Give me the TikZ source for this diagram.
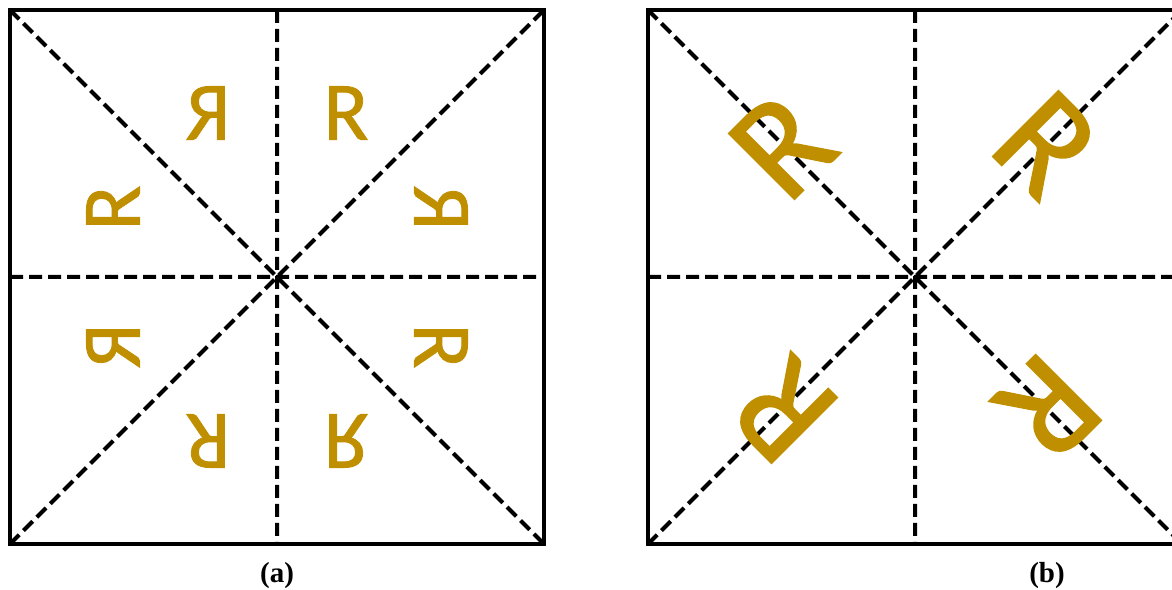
\documentclass[tikz,border=0pt]{standalone}
\usepackage{fontspec}
\setmainfont{Liberation Serif}
\newfontfamily\letterfont[FakeBold=1]{Carlito}
\definecolor{gold}{HTML}{BF8F00}

\begin{document}
\begin{tikzpicture}[x=1pt, y=1pt,
	frame/.style={line width=4pt},
	guide/.style={line width=4pt, dash pattern=on 13pt off 6pt},
	smallR/.style={text=gold, font=\letterfont\fontsize{83}{83}\selectfont, inner sep=0pt, transform shape},
	bigR/.style={text=gold, font=\letterfont\fontsize{145}{145}\selectfont, inner sep=0pt, transform shape},
	caption/.style={font=\bfseries\fontsize{29}{29}\selectfont, anchor=base}]
	\useasboundingbox (0,0) rectangle (1172,589);
	\clip (0,0) rectangle (1172,589);
	
	% Centres of the squares
	\coordinate (ca) at (277,312);
	\coordinate (cb) at (915,312);
	
	% Squares with dashed symmetry lines
	\foreach \p in {a,b} {
		\path (c\p) ++(-267,267) coordinate (\p-nw) ++(534,0) coordinate (\p-ne)
			++(0,-534) coordinate (\p-se) ++(-534,0) coordinate (\p-sw);
		\path (c\p) ++(0,267) coordinate (\p-n) ++(0,-534) coordinate (\p-s);
		\path (c\p) ++(-267,0) coordinate (\p-w) ++(534,0) coordinate (\p-e);
		\draw[guide] (\p-nw) -- (\p-se) (\p-sw) -- (\p-ne) (\p-n) -- (\p-s) (\p-w) -- (\p-e);
		\draw[frame] (\p-nw) rectangle (\p-se);
	}
	
	% (a): all eight images of R
	\foreach \a/\b/\c/\d [count=\i] in {1/0/0/1, -1/0/0/1, 1/0/0/-1, -1/0/0/-1, 0/1/1/0, 0/-1/1/0, 0/1/-1/0, 0/-1/-1/0} {
		\begin{scope}[shift={(ca)}, cm={\a,\b,\c,\d,(0,0)}]
			\node[smallR] (ra\i) at (69,164) {R};
		\end{scope}
	}
	
	% (b): four rotations of R
	\foreach \r [count=\i] in {0,90,180,270} {
		\begin{scope}[shift={(cb)}, rotate=\r]
			\node[bigR, rotate=-45] (rb\i) at (131,133) {R};
		\end{scope}
	}
	
	% Captions
	\node[caption] (la) at (277,7) {(a)};
	\node[caption] (lb) at (1047,7) {(b)};
\end{tikzpicture}
\end{document}
